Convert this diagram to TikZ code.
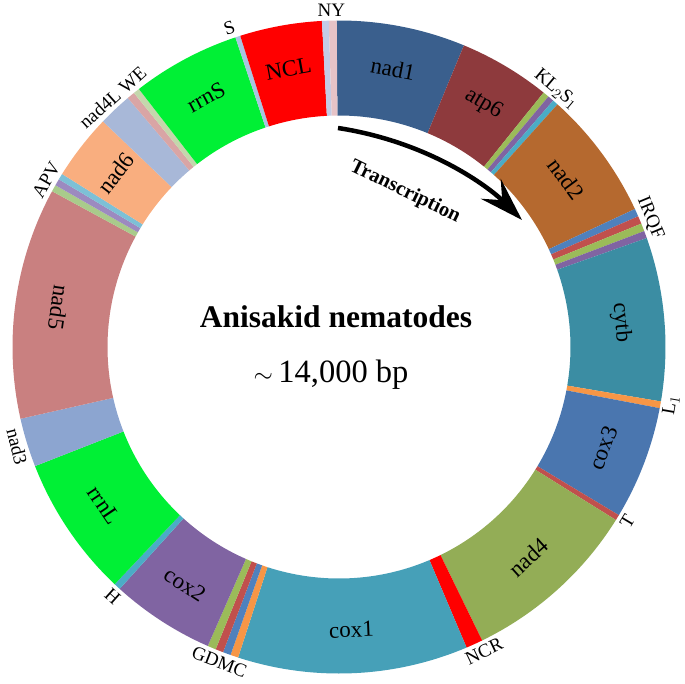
\documentclass[tikz,border=0pt]{standalone}
\usepackage{fontspec}
\setmainfont{Liberation Serif}
\usetikzlibrary{arrows.meta}
% Couleurs des genes
\definecolor{cNadA}{HTML}{3A5F8D}
\definecolor{cAtp}{HTML}{8E3A3D}
\definecolor{cNadB}{HTML}{B5692F}
\definecolor{cCytb}{HTML}{3B8DA3}
\definecolor{cCoxC}{HTML}{4A76AF}
\definecolor{cNadD}{HTML}{93AD56}
\definecolor{cCoxA}{HTML}{46A0B8}
\definecolor{cCoxB}{HTML}{8064A2}
\definecolor{cRrn}{HTML}{00F035}
\definecolor{cNadC}{HTML}{8CA5D0}
\definecolor{cNadE}{HTML}{C98080}
\definecolor{cNadF}{HTML}{F9AE7F}
\definecolor{cNadL}{HTML}{A8B8D8}
\definecolor{cNcl}{HTML}{FF0000}
% Couleurs des ARNt
\definecolor{tVert}{HTML}{9BBB59}
\definecolor{tViolet}{HTML}{8064A2}
\definecolor{tTurquoise}{HTML}{4BACC6}
\definecolor{tBleu}{HTML}{4F81BD}
\definecolor{tRouge}{HTML}{C0504D}
\definecolor{tOrange}{HTML}{F79646}
\definecolor{tVertPale}{HTML}{A9CB8B}
\definecolor{tVioletPale}{HTML}{9C8AC0}
\definecolor{tBleuPale}{HTML}{7DC0D6}
\definecolor{tRose}{HTML}{D9A5A5}
\definecolor{tGris}{HTML}{C4D7AC}
\definecolor{tCiel}{HTML}{A9C4E0}
\definecolor{tLavande}{HTML}{C3CBE6}
\definecolor{tRosePale}{HTML}{E6C3C7}
\begin{document}
\begin{tikzpicture}[x=1pt,y=1pt]
% Styles (MODIFIABLES)
\tikzstyle{gene}=[font=\fontsize{23}{26}\selectfont,inner sep=0pt]
\tikzstyle{externe}=[font=\fontsize{19}{22}\selectfont,inner sep=0pt]
\tikzstyle{titre}=[font=\fontsize{31.5}{36}\selectfont\bfseries,inner sep=0pt]
\tikzstyle{taille}=[font=\fontsize{32.5}{37}\selectfont,inner sep=0pt]
\tikzstyle{sens}=[font=\fontsize{20.5}{24}\selectfont\bfseries,inner sep=0pt]
\tikzstyle{fleche}=[-{Stealth[length=44pt,width=28pt,inset=16pt]},line width=4.5pt]
% Dimensions (MODIFIABLES)
\def\RayonExt{326.5}
\def\RayonInt{231.5}
\def\RayonGene{283}
\def\RayonExterne{337}
% Secteur : angle de debut, angle de fin, couleur
\def\Secteur#1#2#3{\fill[#3] (#1:\RayonExt) arc[start angle=#1,end angle=#2,radius=\RayonExt]
  -- (#2:\RayonInt) arc[start angle=#2,end angle=#1,radius=\RayonInt] -- cycle;}
\useasboundingbox (-339,-336) rectangle (346,347);
% Secteurs (sens horaire depuis nad1)
\Secteur{90.4}{67.5}{cNadA}
\Secteur{67.5}{51.2}{cAtp}
\Secteur{51.2}{50.1}{tVert}
\Secteur{50.1}{49.0}{tViolet}
\Secteur{49.0}{48.0}{tTurquoise}
\Secteur{48.0}{25.0}{cNadB}
\Secteur{25.0}{23.6}{tBleu}
\Secteur{23.6}{22.2}{tRouge}
\Secteur{22.2}{20.8}{tVert}
\Secteur{20.8}{19.5}{tViolet}
\Secteur{19.5}{-9.6}{cCytb}
\Secteur{-9.6}{-10.8}{tOrange}
\Secteur{-10.8}{-31.0}{cCoxC}
\Secteur{-31.0}{-32.0}{tRouge}
\Secteur{-32.0}{-64.0}{cNadD}
\Secteur{-64.0}{-67.0}{cNcl}
\Secteur{-67.0}{-108.0}{cCoxA}
\Secteur{-108.0}{-109.4}{tOrange}
\Secteur{-109.4}{-110.8}{tBleu}
\Secteur{-110.8}{-112.2}{tRouge}
\Secteur{-112.2}{-113.7}{tVert}
\Secteur{-113.7}{-132.2}{cCoxB}
\Secteur{-132.2}{-133.4}{tTurquoise}
\Secteur{-133.4}{-158.6}{cRrn}
\Secteur{-158.6}{-167.3}{cNadC}
\Secteur{-167.3}{-208.5}{cNadE}
\Secteur{-208.5}{-209.7}{tVertPale}
\Secteur{-209.7}{-210.9}{tVioletPale}
\Secteur{-210.9}{-212.0}{tBleuPale}
\Secteur{-212.0}{-223.7}{cNadF}
\Secteur{-223.7}{-229.7}{cNadL}
\Secteur{-229.7}{-231.1}{tRose}
\Secteur{-231.1}{-232.2}{tGris}
\Secteur{-232.2}{-251.5}{cRrn}
\Secteur{-251.5}{-252.4}{tCiel}
\Secteur{-252.4}{-267.0}{cNcl}
\Secteur{-267.0}{-268.2}{tLavande}
\Secteur{-268.2}{-269.6}{tRosePale}
% Etiquettes des genes
\node[gene,rotate=-11] (nad1) at (79:\RayonGene) {nad1};
\node[gene,rotate=-30.7] (atp6) at (59.3:\RayonGene) {atp6};
\node[gene,rotate=-53.5] (nad2) at (36.5:\RayonGene) {nad2};
\node[gene,rotate=-85] (cytb) at (5:\RayonGene) {cytb};
\node[gene,rotate=69] (cox3) at (-21:\RayonGene) {cox3};
\node[gene,rotate=42] (nad4) at (-48:\RayonGene) {nad4};
\node[gene,rotate=2.5] (cox1) at (-87.5:\RayonGene) {cox1};
\node[gene,rotate=-33] (cox2) at (-123:\RayonGene) {cox2};
\node[gene,rotate=-56] (rrnL) at (-146:\RayonGene) {rrnL};
\node[gene,rotate=-98] (nad5) at (172:\RayonGene) {nad5};
\node[gene,rotate=52] (nad6) at (142:\RayonGene) {nad6};
\node[gene,rotate=28] (rrnS) at (118:\RayonGene) {rrnS};
\node[gene,rotate=10.3] (NCL) at (100.3:\RayonGene) {NCL};
% Etiquettes exterieures
\node[externe] (NY) at (91.3:\RayonExterne) {NY};
\node[externe,rotate=19] (S) at (109:\RayonExterne) {S};
\node[externe,rotate=42] (nad4LWE) at (132.2:\RayonExterne) {nad4L WE};
\node[externe,rotate=60] (APV) at (150.3:\RayonExterne) {APV};
\node[externe,rotate=-76] (nad3) at (-162.8:\RayonExterne) {nad3};
\node[externe,rotate=-42] (H) at (-132.2:\RayonExterne) {H};
\node[externe,rotate=-21] (GDMC) at (-110.8:\RayonExterne) {GDMC};
\node[externe,rotate=25.5] (NCR) at (-64.5:\RayonExterne) {NCR};
\node[externe,rotate=59] (T) at (-31.2:\RayonExterne) {T};
\node[externe,rotate=80] (L1) at (-9.9:\RayonExterne) {L$_1$};
\node[externe,rotate=-67.5] (IRQF) at (22.5:\RayonExterne) {IRQF};
\node[externe,rotate=-40] (KLS) at (49.9:\RayonExterne) {KL$_2$S$_1$};
% Centre
\node[titre,anchor=base] (espece) at (-3,20) {Anisakid nematodes};
\node[taille,anchor=base] (longueur) at (-8,-35) {$\sim$\,14,000 bp};
% Sens de transcription
\coordinate (debut) at (-1,219);
\coordinate (fin) at (183,127);
\draw[fleche] (debut) .. controls (90,205) and (150,160) .. (fin);
\node[sens,rotate=-26] (transcription) at (66,155) {Transcription};
\end{tikzpicture}
\end{document}
